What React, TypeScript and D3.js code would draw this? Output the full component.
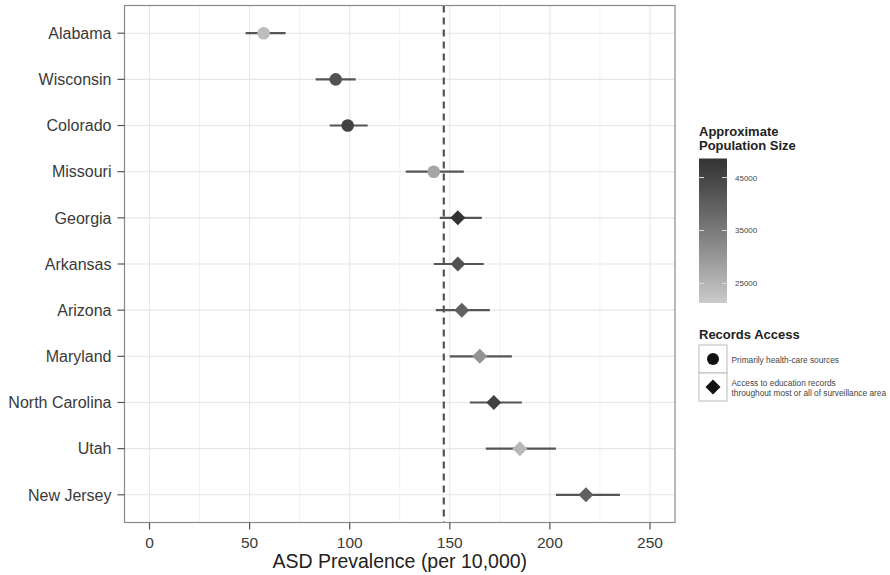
import React from "react";
import * as d3 from "d3";

const states = ["Alabama", "Wisconsin", "Colorado", "Missouri", "Georgia", "Arkansas", "Arizona", "Maryland", "North Carolina", "Utah", "New Jersey"];
const prevalence = [57, 93, 99, 142, 154, 154, 156, 165, 172, 185, 218];
const lowerCI = [48, 83, 90, 128, 145, 142, 143, 150, 160, 168, 203];
const upperCI = [68, 103, 109, 157, 166, 167, 170, 181, 186, 203, 235];
const recordsAccess = ["health", "health", "health", "health", "education", "education", "education", "education", "education", "education", "education"];
const population = [23600, 42700, 45800, 27600, 48600, 42700, 39700, 30600, 45800, 24500, 39700];
const overallPrevalence = 147;
const xTicks = [0, 50, 100, 150, 200, 250];
const xMinorTicks = [25, 75, 125, 175, 225];
const popTicks = [25000, 35000, 45000];
const popRange = [21300, 48600];

const W = 890, H = 575;
const P = { left: 124.5, right: 675, top: 5.5, bottom: 522.5 };
const FONT = "'Liberation Sans', Arial, Helvetica, sans-serif";

export default function App() {
  const x = d3.scaleLinear().domain([-12.5, 262.5]).range([P.left, P.right]);
  const y = d3.scalePoint<string>().domain(states).range([P.top, P.bottom]).padding(0.6);
  const color = d3.scaleLinear<string>().domain(popRange).range(["#cbcbcb", "#333333"]).interpolate(d3.interpolateLab);

  const cbTop = 158.5, cbBottom = 303, cbX = 699, cbW = 28;
  const cbScale = d3.scaleLinear().domain(popRange).range([cbBottom, cbTop]);
  const gradStops = d3.range(0, 1.0001, 0.1);

  const diamond = (cx: number, cy: number, s: number) =>
    `M${cx},${cy - s}L${cx + s},${cy}L${cx},${cy + s}L${cx - s},${cy}Z`;

  return (
    <svg width={W} height={H} style={{ position: "absolute", left: 0, top: 0, background: "#fff" }} fontFamily={FONT}>
      <defs>
        <linearGradient id="popGrad" x1="0" y1="1" x2="0" y2="0">
          {gradStops.map((t) => (
            <stop key={t} offset={t} stopColor={color(popRange[0] + t * (popRange[1] - popRange[0]))} />
          ))}
        </linearGradient>
      </defs>
      <rect x={P.left} y={P.top} width={P.right - P.left} height={P.bottom - P.top} fill="#fff" />
      {xMinorTicks.map((t) => (
        <line key={"mn" + t} x1={x(t)} x2={x(t)} y1={P.top} y2={P.bottom} stroke="#f2f2f2" strokeWidth={1} />
      ))}
      {xTicks.map((t) => (
        <line key={"mj" + t} x1={x(t)} x2={x(t)} y1={P.top} y2={P.bottom} stroke="#e6e6e6" strokeWidth={1.1} />
      ))}
      {states.map((s) => (
        <line key={"hg" + s} x1={P.left} x2={P.right} y1={y(s)} y2={y(s)} stroke="#e6e6e6" strokeWidth={1.1} />
      ))}
      <line x1={x(overallPrevalence)} x2={x(overallPrevalence)} y1={P.top} y2={P.bottom} stroke="#555" strokeWidth={2.2} strokeDasharray="7,5" />
      {states.map((s, i) => (
        <line key={"eb" + s} x1={x(lowerCI[i])} x2={x(upperCI[i])} y1={y(s)} y2={y(s)} stroke="#555" strokeWidth={2.2} />
      ))}
      {states.map((s, i) =>
        recordsAccess[i] === "health" ? (
          <circle key={"pt" + s} cx={x(prevalence[i])} cy={y(s)} r={6.3} fill={color(population[i])} />
        ) : (
          <path key={"pt" + s} d={diamond(x(prevalence[i]), y(s)!, 7.5)} fill={color(population[i])} />
        )
      )}
      <rect x={P.left} y={P.top} width={P.right - P.left} height={P.bottom - P.top} fill="none" stroke="#8a8a8a" strokeWidth={1.2} />
      {states.map((s) => (
        <g key={"yl" + s}>
          <line x1={P.left - 7} x2={P.left} y1={y(s)} y2={y(s)} stroke="#555" strokeWidth={1.2} />
          <text x={P.left - 13} y={y(s)! + 5.7} textAnchor="end" fontSize={16} fill="#3a3a3a">{s}</text>
        </g>
      ))}
      {xTicks.map((t) => (
        <g key={"xl" + t}>
          <line x1={x(t)} x2={x(t)} y1={P.bottom} y2={P.bottom + 7} stroke="#555" strokeWidth={1.2} />
          <text x={x(t)} y={P.bottom + 25} textAnchor="middle" fontSize={15.5} fill="#3a3a3a">{t}</text>
        </g>
      ))}
      <text x={(P.left + P.right) / 2} y={568} textAnchor="middle" fontSize={19.5} fill="#222">ASD Prevalence (per 10,000)</text>

      <text x={699} y={136} fontSize={13} fontWeight="bold" fill="#222">Approximate</text>
      <text x={699} y={150} fontSize={13} fontWeight="bold" fill="#222">Population Size</text>
      <rect x={cbX} y={cbTop} width={cbW} height={cbBottom - cbTop} fill="url(#popGrad)" />
      {popTicks.map((t) => (
        <g key={"cb" + t}>
          <line x1={cbX} x2={cbX + 5} y1={cbScale(t)} y2={cbScale(t)} stroke="#ddd" strokeWidth={1} />
          <line x1={cbX + cbW - 5} x2={cbX + cbW} y1={cbScale(t)} y2={cbScale(t)} stroke="#ddd" strokeWidth={1} />
          <text x={735} y={cbScale(t) + 3} fontSize={8} fill="#444">{t}</text>
        </g>
      ))}

      <text x={699} y={338.5} fontSize={13} fontWeight="bold" fill="#222">Records Access</text>
      <rect x={699} y={345} width={28} height={28} fill="#fff" stroke="#bbb" strokeWidth={1} />
      <rect x={699} y={373} width={28} height={28} fill="#fff" stroke="#bbb" strokeWidth={1} />
      <circle cx={713} cy={359} r={6} fill="#111" />
      <path d={diamond(713, 387, 7.5)} fill="#111" />
      <text x={731.5} y={363} fontSize={8.3} fill="#444">Primarily health-care sources</text>
      <text x={731.5} y={386} fontSize={8.3} fill="#444">Access to education records</text>
      <text x={731.5} y={396} fontSize={8.3} fill="#444">throughout most or all of surveillance area</text>
    </svg>
  );
}
